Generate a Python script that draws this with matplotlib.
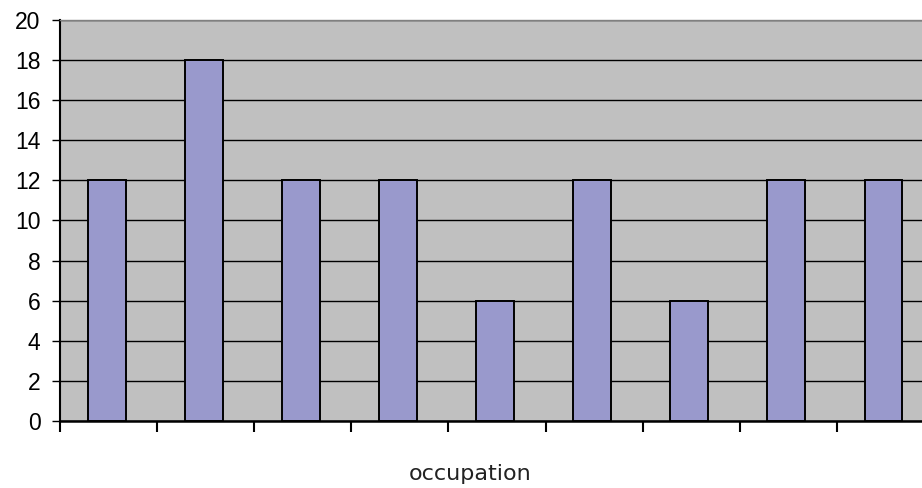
import matplotlib
matplotlib.use("Agg")
import matplotlib.pyplot as plt
import numpy as np

categories = ["", "", "", "", "", "", "", "", ""]
values = [12, 18, 12, 12, 6, 12, 6, 12, 12]
yticks = [0, 2, 4, 6, 8, 10, 12, 14, 16, 18, 20]

W, H = 922, 488
fig = plt.figure(figsize=(W / 100, H / 100), dpi=100)
left, right, top, bottom = 60, 934, 20, 421
ax = fig.add_axes([left / W, (H - bottom) / H, (right - left) / W, (bottom - top) / H])
ax.set_facecolor("#C0C0C0")

x = np.arange(len(values))
ax.bar(x - 0.02, values, width=0.39, color="#9999CC", edgecolor="black", linewidth=1.4, zorder=3)

ax.set_xlim(-0.5, len(values) - 0.5)
ax.set_ylim(0, 20)
ax.set_yticks(yticks)
ax.set_yticklabels([str(v) for v in yticks], fontsize=16.5, family="Liberation Sans")
ax.yaxis.grid(True, color="black", linewidth=1.0, zorder=1)
ax.set_axisbelow(True)

ax.set_xticks(np.arange(len(values) + 1) - 0.5)
ax.set_xticklabels([])
ax.tick_params(axis="x", direction="out", length=8, width=1.5, color="black")
ax.tick_params(axis="y", direction="out", length=6, width=1.0, color="black", pad=8)

for s in ["left", "bottom"]:
    ax.spines[s].set_color("black")
ax.spines["left"].set_linewidth(1.5)
ax.spines["bottom"].set_linewidth(1.8)
ax.spines["top"].set_color("#808080")
ax.spines["top"].set_linewidth(1.0)
ax.spines["right"].set_visible(False)

fig.text(470 / W, 1 - 480 / H, "occupation", ha="center", va="baseline", fontsize=16,
         family="DejaVu Sans", color="#222222")

fig.savefig("out.png", dpi=100)
